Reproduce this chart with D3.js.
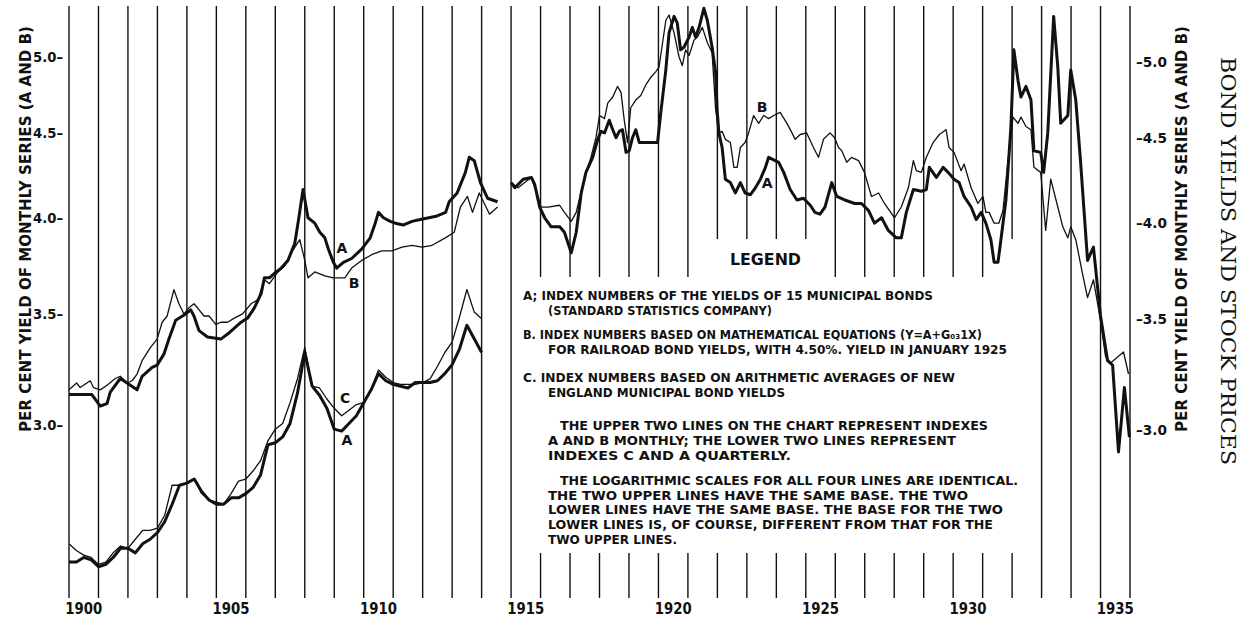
<!DOCTYPE html>
<html lang="en">
  <head>
    <meta charset="UTF-8" />
    <title>Bond yields and stock prices</title>
    <script src="https://d3js.org/d3.v7.min.js"></script>
    <style>
      body { margin: 0; background: #fff; }
      svg text { font-family: "DejaVu Sans", sans-serif; font-weight: bold; fill: #111; }
    </style>
  </head>
  <body>
    <script>
      // index A monthly, 1900 - mid 1914
      var datesA1 = [1900.00, 1900.77, 1901.06, 1901.29, 1901.40, 1901.74, 1901.97, 1902.31, 1902.48, 1902.82, 1902.99,
        1903.22, 1903.39, 1903.62, 1903.96, 1904.13, 1904.24, 1904.41, 1904.70, 1905.15, 1905.44, 1905.84,
        1906.06, 1906.29, 1906.52, 1906.63, 1906.80, 1907.03, 1907.20, 1907.43, 1907.66, 1907.79, 1907.94,
        1908.11, 1908.34, 1908.51, 1908.68, 1908.80, 1908.97, 1909.08, 1909.31, 1909.59, 1909.93,
        1910.22, 1910.39, 1910.50, 1910.67, 1910.90, 1911.07, 1911.35, 1911.64, 1911.92,
        1912.21, 1912.49, 1912.78, 1912.90, 1913.17, 1913.45, 1913.58, 1913.75, 1913.96, 1914.20, 1914.54];
      var yieldA1 = [3.13, 3.13, 3.08, 3.09, 3.14, 3.20, 3.18, 3.15, 3.21, 3.25, 3.26,
        3.31, 3.38, 3.47, 3.50, 3.52, 3.49, 3.42, 3.39, 3.38, 3.41, 3.46,
        3.48, 3.53, 3.60, 3.68, 3.68, 3.71, 3.73, 3.77, 3.86, 3.99, 4.16,
        4.00, 3.97, 3.92, 3.89, 3.83, 3.76, 3.73, 3.76, 3.78, 3.83,
        3.89, 3.97, 4.03, 4.00, 3.98, 3.97, 3.96, 3.98, 3.99,
        4.00, 4.01, 4.03, 4.09, 4.14, 4.26, 4.35, 4.33, 4.20, 4.11, 4.09];

      // index A monthly, 1915 - 1935
      var datesA2 = [1915.00, 1915.13, 1915.41, 1915.69, 1915.80, 1915.97, 1916.14, 1916.36, 1916.65, 1916.81,
        1917.04, 1917.21, 1917.38, 1917.54, 1917.77, 1917.94, 1918.05, 1918.17, 1918.33, 1918.45, 1918.56,
        1918.67, 1918.78, 1918.90, 1919.01, 1919.12, 1919.23, 1919.35, 1919.52, 1919.97,
        1920.08, 1920.25, 1920.36, 1920.53, 1920.64, 1920.75, 1920.87,
        1921.04, 1921.15, 1921.26, 1921.38, 1921.54, 1921.66, 1921.82, 1921.94, 1921.99,
        1922.05, 1922.16, 1922.27, 1922.44, 1922.61, 1922.78, 1922.94,
        1923.12, 1923.29, 1923.46, 1923.63, 1923.74, 1924.08, 1924.25, 1924.47, 1924.70, 1924.92,
        1925.15, 1925.31, 1925.48, 1925.65, 1925.88, 1926.05, 1926.32, 1926.66, 1926.89,
        1927.13, 1927.33, 1927.57, 1927.80, 1928.07, 1928.24, 1928.41, 1928.65, 1928.92,
        1929.09, 1929.19, 1929.43, 1929.66, 1929.83, 1930.03, 1930.20, 1930.37, 1930.61, 1930.78, 1930.95,
        1931.11, 1931.28, 1931.39, 1931.52, 1931.62, 1931.79, 1931.96,
        1932.06, 1932.20, 1932.30, 1932.47, 1932.64, 1932.74, 1932.97,
        1933.07, 1933.21, 1933.41, 1933.55, 1933.65, 1933.89, 1933.99,
        1934.16, 1934.32, 1934.56, 1934.76, 1935.00, 1935.24, 1935.41, 1935.61, 1935.81, 1935.98];
      var yieldA2 = [4.20, 4.17, 4.22, 4.23, 4.19, 4.06, 4.00, 3.95, 3.95, 3.92,
        3.81, 3.92, 4.14, 4.26, 4.35, 4.46, 4.51, 4.50, 4.58, 4.52, 4.47,
        4.51, 4.52, 4.38, 4.39, 4.47, 4.52, 4.44, 4.44, 4.44,
        4.63, 4.91, 5.17, 5.29, 5.24, 5.05, 5.07,
        5.14, 5.21, 5.14, 5.21, 5.35, 5.26, 5.07, 4.89, 4.65,
        4.50, 4.41, 4.22, 4.20, 4.14, 4.20, 4.14,
        4.13, 4.17, 4.22, 4.29, 4.35, 4.32, 4.26, 4.16, 4.10, 4.11,
        4.07, 4.03, 4.02, 4.06, 4.20, 4.12, 4.10, 4.08, 4.08,
        4.04, 3.97, 4.00, 3.93, 3.89, 3.89, 4.03, 4.16, 4.15,
        4.16, 4.29, 4.23, 4.29, 4.26, 4.22, 4.20, 4.12, 4.06, 3.99, 4.03,
        3.97, 3.88, 3.76, 3.76, 3.88, 4.10, 4.54,
        5.05, 4.84, 4.73, 4.80, 4.71, 4.39, 4.38,
        4.26, 4.50, 5.29, 4.93, 4.56, 4.61, 4.91,
        4.71, 4.33, 3.77, 3.84, 3.49, 3.28, 3.26, 2.89, 3.16, 2.95];

      // index B monthly, 1900 - mid 1914
      var datesB1 = [1900.00, 1900.26, 1900.38, 1900.72, 1900.83, 1901.06, 1901.29, 1901.57, 1901.74, 1901.97,
        1902.14, 1902.31, 1902.48, 1902.76, 1902.99, 1903.16, 1903.33, 1903.56, 1903.73, 1903.90,
        1904.07, 1904.24, 1904.36, 1904.58, 1904.75, 1904.98, 1905.15, 1905.38, 1905.61, 1905.89,
        1906.18, 1906.41, 1906.63, 1906.80, 1907.09, 1907.31, 1907.54, 1907.83,
        1908.00, 1908.11, 1908.34, 1908.68, 1908.97, 1909.19, 1909.36, 1909.59, 1909.93,
        1910.27, 1910.61, 1910.96, 1911.30, 1911.64, 1911.98, 1912.32, 1912.77,
        1913.07, 1913.28, 1913.52, 1913.69, 1913.92, 1914.27, 1914.54];
      var yieldB1 = [3.15, 3.18, 3.16, 3.19, 3.16, 3.15, 3.17, 3.20, 3.21, 3.18,
        3.19, 3.22, 3.28, 3.34, 3.38, 3.46, 3.49, 3.62, 3.55, 3.50,
        3.53, 3.55, 3.53, 3.49, 3.49, 3.45, 3.46, 3.46, 3.48, 3.50,
        3.55, 3.57, 3.67, 3.65, 3.71, 3.74, 3.81, 3.88,
        3.77, 3.68, 3.71, 3.69, 3.68, 3.68, 3.68, 3.73, 3.77,
        3.80, 3.82, 3.82, 3.84, 3.85, 3.84, 3.85, 3.89,
        3.92, 4.06, 4.12, 4.03, 4.14, 4.02, 4.06];

      // index B monthly, 1915 - 1935
      var datesB2 = [1915.00, 1915.24, 1915.46, 1915.69, 1915.85, 1916.02, 1916.25, 1916.65, 1916.81,
        1917.04, 1917.21, 1917.49, 1917.71, 1917.88, 1918.00, 1918.17, 1918.28, 1918.45, 1918.61, 1918.73,
        1918.84, 1918.95, 1919.06, 1919.23, 1919.40, 1919.57, 1919.74, 1919.91,
        1920.02, 1920.14, 1920.25, 1920.36, 1920.53, 1920.70, 1920.81, 1920.92,
        1921.04, 1921.21, 1921.32, 1921.49, 1921.66, 1921.82, 1921.94,
        1922.05, 1922.16, 1922.27, 1922.44, 1922.56, 1922.67, 1922.78, 1922.94,
        1923.06, 1923.23, 1923.40, 1923.57, 1923.74, 1923.91, 1924.13, 1924.36, 1924.53, 1924.64, 1924.81,
        1925.03, 1925.26, 1925.43, 1925.60, 1925.82, 1925.98, 1926.11, 1926.22, 1926.39, 1926.55, 1926.79, 1926.99,
        1927.23, 1927.47, 1927.67, 1928.01, 1928.24, 1928.48, 1928.65, 1928.75, 1928.92,
        1929.09, 1929.32, 1929.53, 1929.76, 1929.86, 1930.03, 1930.27, 1930.37, 1930.61, 1930.84,
        1931.01, 1931.11, 1931.22, 1931.39, 1931.55, 1931.69, 1931.86,
        1932.03, 1932.20, 1932.30, 1932.47, 1932.64, 1932.74, 1932.97,
        1933.14, 1933.31, 1933.55, 1933.72, 1933.89, 1933.99, 1934.16, 1934.39, 1934.56, 1934.76,
        1935.00, 1935.17, 1935.34, 1935.61, 1935.78, 1935.95];
      var yieldB2 = [4.20, 4.17, 4.20, 4.23, 4.15, 4.06, 4.06, 4.07, 4.03,
        3.98, 4.03, 4.23, 4.35, 4.47, 4.61, 4.59, 4.69, 4.73, 4.80, 4.76,
        4.58, 4.44, 4.66, 4.71, 4.74, 4.81, 4.86, 4.90,
        4.93, 5.10, 5.26, 5.30, 5.17, 5.00, 4.94, 5.05,
        5.01, 5.12, 5.14, 5.21, 5.10, 5.03, 4.65,
        4.50, 4.51, 4.46, 4.44, 4.29, 4.29, 4.41, 4.44,
        4.50, 4.61, 4.56, 4.61, 4.59, 4.61, 4.63, 4.56, 4.50, 4.46, 4.49,
        4.50, 4.41, 4.35, 4.46, 4.50, 4.47, 4.41, 4.39, 4.32, 4.35, 4.33, 4.26,
        4.12, 4.14, 4.08, 4.00, 4.06, 4.17, 4.33, 4.27, 4.26,
        4.35, 4.44, 4.49, 4.52, 4.41, 4.38, 4.27, 4.31, 4.17, 4.08,
        4.12, 4.03, 4.03, 3.97, 3.97, 4.04, 4.33,
        4.60, 4.56, 4.60, 4.54, 4.52, 4.29, 4.26,
        3.93, 4.22, 4.06, 3.95, 3.89, 3.95, 3.88, 3.70, 3.58, 3.67,
        3.47, 3.30, 3.27, 3.30, 3.32, 3.22];

      // quarterly series C and A, 1900 - 1914 (drawn on the lower base)
      var quarters = d3.range(1900, 1914.01, 0.25);
      var quarterlyC = [3.19, 3.16, 3.14, 3.13, 3.10, 3.11, 3.15, 3.18, 3.17, 3.21, 3.25, 3.25,
        3.26, 3.32, 3.46, 3.46, 3.47, 3.49, 3.42, 3.39, 3.38, 3.37, 3.42, 3.48,
        3.49, 3.53, 3.58, 3.68, 3.74, 3.77, 3.88, 4.01, 4.19, 3.97, 3.96, 3.90,
        3.85, 3.81, 3.84, 3.87, 3.88, 3.95, 4.06, 4.02, 3.99, 3.98, 3.98, 3.98,
        3.99, 4.01, 4.08, 4.16, 4.22, 4.37, 4.54, 4.40, 4.36];
      var quarterlyA = [3.11, 3.11, 3.13, 3.12, 3.09, 3.10, 3.13, 3.17, 3.17, 3.15, 3.19, 3.21,
        3.24, 3.29, 3.37, 3.46, 3.47, 3.49, 3.43, 3.39, 3.37, 3.37, 3.40, 3.40,
        3.42, 3.45, 3.51, 3.66, 3.67, 3.70, 3.77, 3.93, 4.16, 3.97, 3.92, 3.85,
        3.74, 3.73, 3.77, 3.81, 3.88, 3.95, 4.04, 4.00, 3.98, 3.97, 3.96, 3.99,
        3.99, 3.99, 4.00, 4.04, 4.09, 4.18, 4.32, 4.24, 4.16];

      var yieldTicks = [3.0, 3.5, 4.0, 4.5, 5.0];
      var yearLabels = [1900, 1905, 1910, 1915, 1920, 1925, 1930, 1935];

      var width = 1241, height = 618;
      var gridTop = 6, gridBottom = 598;
      var lowerShift = 163; // pixels between the two bases

      var svg = d3.select("body").append("svg")
        .attr("width", width)
        .attr("height", height);

      var x = d3.scaleLinear().domain([1900, 1936]).range([69, 1130]);
      var y = d3.scaleLog().domain([3, 5]).range([425, 57]);
      var yLower = d3.scaleLog().domain([3, 5]).range([425 + lowerShift, 57 + lowerShift]);

      // vertical year lines, broken where the legend sits
      var years = d3.range(1900, 1937);
      var gridSegs = [];
      years.forEach(function (yr) {
        if (yr >= 1916 && yr <= 1932) {
          var cut = (yr >= 1922 && yr <= 1925) || yr === 1932 ? 239 : 277;
          gridSegs.push({ yr: yr, y1: gridTop, y2: cut });
          gridSegs.push({ yr: yr, y1: 553, y2: gridBottom });
        } else {
          gridSegs.push({ yr: yr, y1: gridTop, y2: gridBottom });
        }
      });
      svg.append("g")
        .selectAll("line")
        .data(gridSegs)
        .enter()
        .append("line")
        .attr("x1", function (d) { return x(d.yr); })
        .attr("x2", function (d) { return x(d.yr); })
        .attr("y1", function (d) { return d.y1; })
        .attr("y2", function (d) { return d.y2; })
        .attr("stroke", "#111")
        .attr("stroke-width", 1.4);

      // axes
      var leftAxis = svg.append("g")
        .attr("transform", "translate(" + x(1900) + ",0)")
        .call(d3.axisLeft(y).tickValues(yieldTicks).tickSize(0).tickPadding(6)
          .tickFormat(function (d) { return d.toFixed(1) + "\u2013"; }));
      leftAxis.select(".domain").remove();
      leftAxis.selectAll("text")
        .style("font-size", "14px")
        .attr("textLength", 30)
        .attr("lengthAdjust", "spacingAndGlyphs");

      var rightAxis = svg.append("g")
        .attr("transform", "translate(" + x(1936) + ",5)")
        .call(d3.axisRight(y).tickValues(yieldTicks).tickSize(0).tickPadding(6)
          .tickFormat(function (d) { return "\u2013" + d.toFixed(1); }));
      rightAxis.select(".domain").remove();
      rightAxis.selectAll("text")
        .style("font-size", "14px")
        .attr("textLength", 31)
        .attr("lengthAdjust", "spacingAndGlyphs");

      svg.append("g")
        .selectAll("text")
        .data(yearLabels)
        .enter()
        .append("text")
        .attr("x", function (d) { return x(d + 0.5) - 18.5; })
        .attr("y", 614)
        .attr("textLength", 37)
        .attr("lengthAdjust", "spacingAndGlyphs")
        .style("font-size", "15px")
        .text(function (d) { return d; });

      var axisTitle = "PER CENT YIELD OF MONTHLY SERIES (A AND B)";
      [31, 1187].forEach(function (bx) {
        svg.append("text")
          .attr("transform", "translate(" + bx + ",229) rotate(-90)")
          .attr("text-anchor", "middle")
          .attr("textLength", 406)
          .attr("lengthAdjust", "spacingAndGlyphs")
          .style("font-size", "16px")
          .text(axisTitle);
      });

      svg.append("text")
        .attr("transform", "translate(1221,261) rotate(90)")
        .attr("text-anchor", "middle")
        .attr("textLength", 408)
        .attr("lengthAdjust", "spacingAndGlyphs")
        .style("font-family", "'DejaVu Serif', 'Liberation Serif', serif")
        .style("font-weight", "normal")
        .style("font-size", "20px")
        .text("BOND YIELDS AND STOCK PRICES");

      // series
      function pairs(dates, vals) { return d3.zip(dates, vals); }
      var line = d3.line().x(function (d) { return x(d[0]); }).y(function (d) { return y(d[1]); });
      var lineLow = d3.line().x(function (d) { return x(d[0]); }).y(function (d) { return yLower(d[1]); });

      var series = [
        { data: pairs(datesB1, yieldB1), gen: line, w: 1.3 },
        { data: pairs(datesB2, yieldB2), gen: line, w: 1.3 },
        { data: pairs(datesA1, yieldA1), gen: line, w: 3 },
        { data: pairs(datesA2, yieldA2), gen: line, w: 3 },
        { data: pairs(quarters, quarterlyC), gen: lineLow, w: 1.3 },
        { data: pairs(quarters, quarterlyA), gen: lineLow, w: 3 }
      ];
      svg.append("g")
        .selectAll("path")
        .data(series)
        .enter()
        .append("path")
        .attr("d", function (s) { return s.gen(s.data); })
        .attr("fill", "none")
        .attr("stroke", "#111")
        .attr("stroke-width", function (s) { return s.w; })
        .attr("stroke-linejoin", "round");

      // line letters
      var tags = [
        { t: "A", yr: 1909.26, v: 3.81, sc: y },
        { t: "B", yr: 1909.67, v: 3.63, sc: y },
        { t: "C", yr: 1909.37, v: 3.88, sc: yLower },
        { t: "A", yr: 1909.43, v: 3.66, sc: yLower },
        { t: "B", yr: 1923.52, v: 4.63, sc: y },
        { t: "A", yr: 1923.69, v: 4.17, sc: y }
      ];
      svg.append("g")
        .selectAll("text")
        .data(tags)
        .enter()
        .append("text")
        .attr("x", function (d) { return x(d.yr); })
        .attr("y", function (d) { return d.sc(d.v); })
        .attr("text-anchor", "middle")
        .style("font-size", "14px")
        .text(function (d) { return d.t; });

      // legend text
      svg.append("text")
        .attr("x", 730).attr("y", 265)
        .attr("textLength", 71)
        .attr("lengthAdjust", "spacingAndGlyphs")
        .style("font-size", "15px")
        .text("LEGEND");

      var legendLines = [
        { t: "A; INDEX NUMBERS OF THE YIELDS OF 15 MUNICIPAL BONDS", x: 523, y: 300, w: 410 },
        { t: "(STANDARD STATISTICS COMPANY)", x: 548, y: 315, w: 224 },
        { t: "B. INDEX NUMBERS BASED ON MATHEMATICAL EQUATIONS (Y=A+G\u2080\u20831X)", x: 523, y: 339, w: 459 },
        { t: "FOR RAILROAD BOND YIELDS, WITH 4.50%. YIELD IN JANUARY 1925", x: 548, y: 354, w: 459 },
        { t: "C. INDEX NUMBERS BASED ON ARITHMETIC AVERAGES OF NEW", x: 523, y: 382, w: 432 },
        { t: "ENGLAND MUNICIPAL BOND YIELDS", x: 548, y: 397, w: 237 },
        { t: "THE UPPER TWO LINES ON THE CHART REPRESENT INDEXES", x: 560, y: 430, w: 428 },
        { t: "A AND B  MONTHLY; THE LOWER TWO LINES REPRESENT", x: 548, y: 445, w: 408 },
        { t: "INDEXES C AND A QUARTERLY.", x: 548, y: 460, w: 243 },
        { t: "THE LOGARITHMIC SCALES FOR ALL FOUR LINES ARE IDENTICAL.", x: 560, y: 485, w: 458 },
        { t: "THE TWO UPPER LINES HAVE THE SAME BASE. THE TWO", x: 548, y: 500, w: 420 },
        { t: "LOWER LINES HAVE THE SAME BASE. THE BASE FOR THE TWO", x: 548, y: 514, w: 455 },
        { t: "LOWER LINES IS, OF COURSE, DIFFERENT FROM THAT FOR THE", x: 548, y: 529, w: 445 },
        { t: "TWO UPPER LINES.", x: 548, y: 544, w: 129 }
      ];
      svg.append("g")
        .selectAll("text")
        .data(legendLines)
        .enter()
        .append("text")
        .attr("x", function (d) { return d.x; })
        .attr("y", function (d) { return d.y; })
        .attr("textLength", function (d) { return d.w; })
        .attr("lengthAdjust", "spacingAndGlyphs")
        .style("font-size", "12px")
        .text(function (d) { return d.t; });
    </script>
  </body>
</html>
